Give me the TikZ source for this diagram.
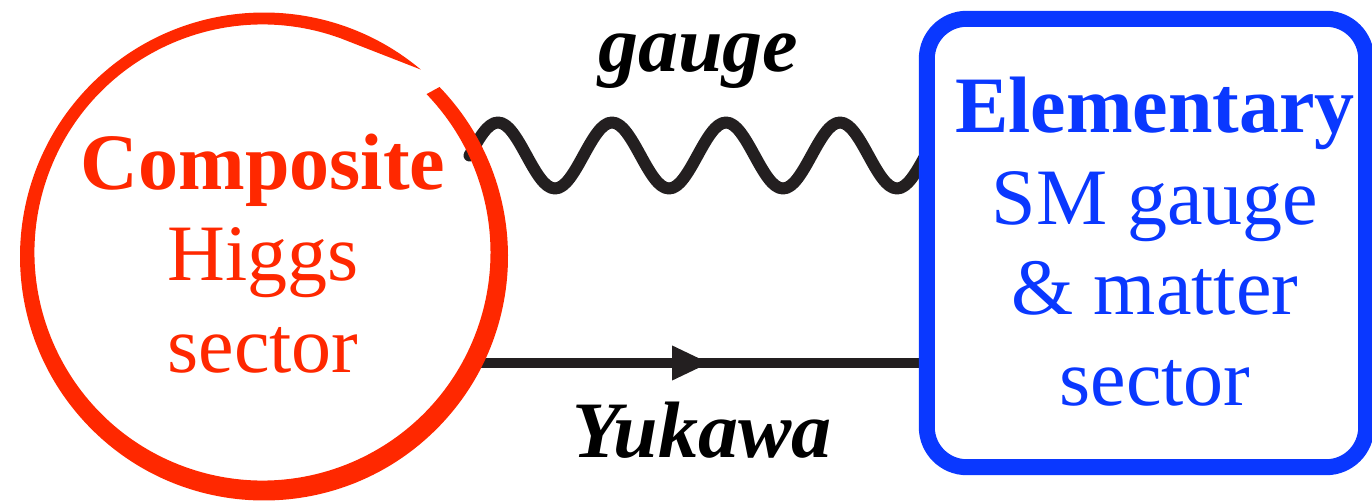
\documentclass[tikz,border=0pt]{standalone}
\usepackage{fontspec}
\setmainfont{Liberation Serif}
\usetikzlibrary{arrows.meta,decorations.markings}
\definecolor{redc}{RGB}{255,40,0}
\definecolor{bluec}{RGB}{10,56,255}
\definecolor{linec}{RGB}{35,31,32}
\begin{document}
\begin{tikzpicture}[x=1pt,y=1pt,
  bigtext/.style={font=\fontsize{80}{90}\selectfont, anchor=base, inner sep=0},
  redtext/.style={bigtext, text=redc},
  bluetext/.style={bigtext, text=bluec},
  labeltext/.style={bigtext, text=black, font=\fontsize{80}{90}\selectfont\bfseries\itshape},
  wavy/.style={draw=linec, line width=12pt, line cap=round, line join=round},
  fermion/.style={draw=linec, line width=10pt,
    postaction={decorate, decoration={markings,
      mark=at position 240pt with {\arrow{Triangle[length=38pt,width=32pt]}}}}}
]
\useasboundingbox (0,0) rectangle (1372,501);

% sector shapes (named, geometry only)
\node[circle, minimum size=488pt, inner sep=0] (ch) at (264,244.5) {};
\coordinate (ci) at (262.5,248.5);
\node[rectangle, minimum width=439pt, minimum height=448pt, inner sep=0] (em) at (1146.5,258) {};

% connectors
\coordinate (w1) at (469.5,345.5);
\coordinate (y1) at (470,138);
\coordinate (y2) at (em.west |- y1);
\draw[wavy] (w1)
  sin ++(28.5,33) cos ++(28.5,-33) sin ++(28.5,-33) cos ++(28.5,33)
  sin ++(28.5,33) cos ++(28.5,-33) sin ++(28.5,-33) cos ++(28.5,33)
  sin ++(28.5,33) cos ++(28.5,-33) sin ++(28.5,-33) cos ++(28.5,33)
  sin ++(28.5,33) cos ++(28.5,-33) sin ++(28.5,-33) cos ++(28.5,33);
\draw[fermion] (y1) -- (y2);

% red brush circle (thicker at the bottom, thin at the top, open at upper right)
\fill[redc]
  ([shift={(44:244)}]ch.center) arc[start angle=44, end angle=-310, radius=244]
  -- ([shift={(-290:228)}]ci) arc[start angle=-290, end angle=44, radius=228]
  -- cycle;

% blue rounded box
\draw[bluec, line width=16pt, rounded corners=40pt, fill=white]
  (em.south west) rectangle (em.north east);

% texts
\node[redtext, font=\fontsize{80}{90}\selectfont\bfseries] (t1) at (263,311) {Composite};
\node[redtext] (t2) at (263,220) {Higgs};
\node[redtext] (t3) at (263,129) {sector};

\node[bluetext, font=\fontsize{80}{90}\selectfont\bfseries] (e1) at (1155,368) {Elementary};
\node[bluetext] (e2) at (1155,276) {SM gauge};
\node[bluetext] (e3) at (1155,186) {\& matter};
\node[bluetext] (e4) at (1155,96) {sector};

\node[labeltext] (lg) at (698,429) {gauge};
\node[labeltext] (ly) at (702,44) {Yukawa};
\end{tikzpicture}
\end{document}
